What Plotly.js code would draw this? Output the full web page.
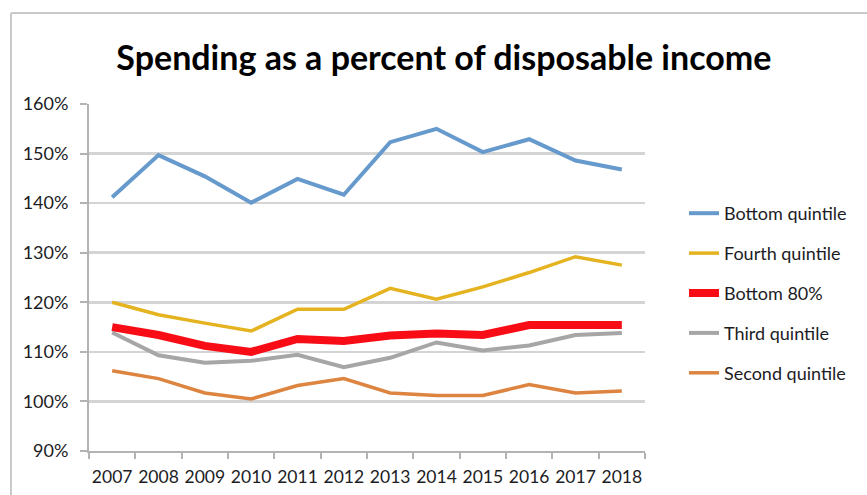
<!DOCTYPE html>
<html>
<head>
<meta charset="utf-8">
<script src="https://cdn.plot.ly/plotly-3.0.1.min.js"></script>
<style>html,body{margin:0;padding:0;background:#fff;}#chart{width:867px;height:495px;}</style>
</head>
<body>
<div id="chart"></div>
<script>
const years = ['2007','2008','2009','2010','2011','2012','2013','2014','2015','2016','2017','2018'];
const bottomQuintile = [141.2, 149.7, 145.4, 140.1, 144.9, 141.7, 152.3, 155.0, 150.3, 152.9, 148.6, 146.8];
const fourthQuintile = [120.0, 117.5, 115.8, 114.2, 118.6, 118.6, 122.8, 120.6, 123.1, 126.0, 129.2, 127.5];
const bottom80 = [115.0, 113.4, 111.2, 110.0, 112.6, 112.2, 113.3, 113.7, 113.4, 115.4, 115.4, 115.4];
const thirdQuintile = [113.9, 109.3, 107.8, 108.2, 109.4, 106.9, 108.8, 111.9, 110.3, 111.3, 113.4, 113.8];
const secondQuintile = [106.2, 104.6, 101.7, 100.5, 103.2, 104.6, 101.7, 101.2, 101.2, 103.4, 101.7, 102.1];
const yTicks = [90, 100, 110, 120, 130, 140, 150, 160];

const L = 89, R = 645, T = 104, B = 451;
const px = v => (v - L) / (R - L);
const py = v => (B - v) / (B - T);

function tr(name, y, color, width, rank) {
  return {x: years, y: y, name: name, type: 'scatter', mode: 'lines',
    line: {color: color, width: width}, legendgroup: name, legendrank: rank, hoverinfo: 'skip'};
}

const data = [
  tr('Bottom quintile', bottomQuintile, '#6699cc', 4, 1),
  tr('Fourth quintile', fourthQuintile, '#e4b31f', 3.5, 2),
  tr('Third quintile', thirdQuintile, '#a6a6a6', 4, 4),
  tr('Second quintile', secondQuintile, '#dd8440', 3.5, 5),
  tr('Bottom 80%', bottom80, '#f80d17', 8, 3)
];

const layout = {
  width: 867, height: 495,
  margin: {l: L, r: 867 - R, t: T, b: 495 - B},
  paper_bgcolor: '#ffffff', plot_bgcolor: '#ffffff',
  font: {family: 'Lato, "Open Sans", sans-serif', color: '#1c1c24', size: 18},
  title: {text: 'Spending as a percent of disposable income', font: {family: 'Lato, sans-serif', size: 34, color: '#000', weight: 700},
    x: 0.512, xref: 'container', xanchor: 'center', y: 1 - 58/495, yref: 'container', yanchor: 'middle'},
  xaxis: {type: 'category', range: [-0.5, 11.5], tickson: 'boundaries', ticks: 'outside', ticklen: 6, tickwidth: 2, tickcolor: '#b3b3b3',
    showline: true, linecolor: '#b3b3b3', linewidth: 2, showgrid: false, fixedrange: true,
    tickfont: {size: 17.5}, tickangle: 0, ticklabelstandoff: 9},
  yaxis: {range: [90, 160], tickvals: yTicks, ticktext: yTicks.map(v => v + '%'), ticks: 'outside', ticklen: 7, tickwidth: 2,
    tickcolor: '#b3b3b3', showline: true, linecolor: '#b3b3b3', linewidth: 2, showgrid: true, gridcolor: '#d4d4d4', gridwidth: 2.5,
    zeroline: false, fixedrange: true, tickfont: {size: 18}, ticklabelstandoff: 8},
  legend: {x: px(684), xanchor: 'left', y: py(195), yanchor: 'top', tracegroupgap: 13.5,
    font: {size: 18}, bgcolor: 'rgba(0,0,0,0)'},
  showlegend: true,
  shapes: [
    {type: 'line', xref: 'paper', yref: 'paper', x0: px(11), x1: px(11), y0: py(13), y1: py(495), line: {color: '#c9c9c9', width: 2}},
    {type: 'line', xref: 'paper', yref: 'paper', x0: px(11), x1: px(867), y0: py(13), y1: py(13), line: {color: '#c9c9c9', width: 2}}
  ]
};

Plotly.newPlot('chart', data, layout, {displayModeBar: false, staticPlot: true});
</script>
</body>
</html>
